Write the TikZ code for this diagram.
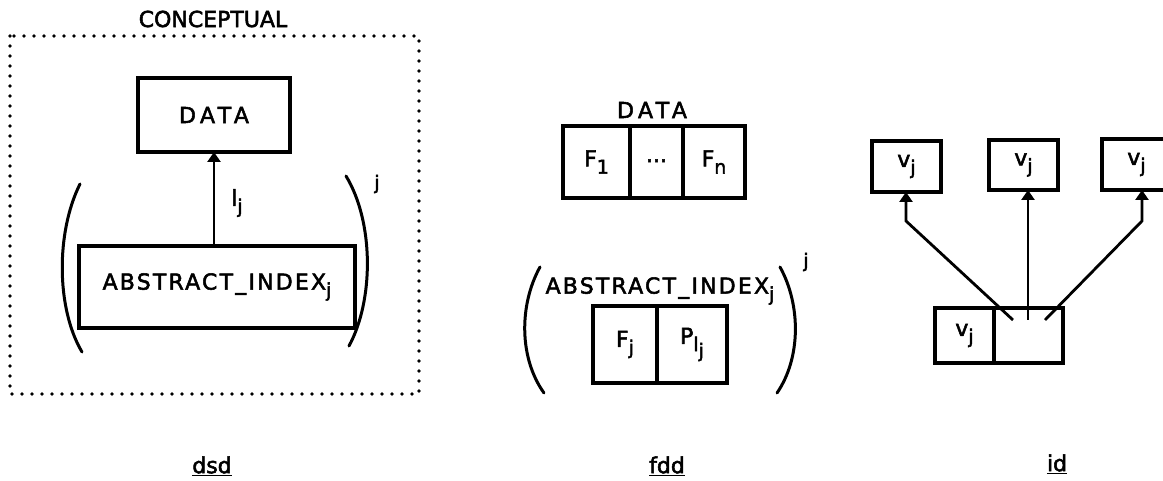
\documentclass[tikz,border=0pt]{standalone}
\usepackage{fontspec}
\setmainfont{DejaVu Sans}[FakeBold=2.4]
\newfontfamily\spaced{DejaVu Sans}[LetterSpace=10,FakeBold=2.4]
\newfontfamily\wide{DejaVu Sans}[LetterSpace=20,FakeBold=2.4]
\usetikzlibrary{arrows.meta}

% lowered index in the plotter style
\newcommand\lowidx[1]{\raisebox{-0.6ex}{\fontsize{19}{19}\selectfont #1}}
% thick underline for the captions
\newcommand\capline[1]{\setlength{\fboxsep}{0pt}\underline{#1}}

\begin{document}
\begin{tikzpicture}[x=1pt,y=-1pt,
  box/.style={draw, line width=3.3pt, inner sep=0pt, outer sep=0pt, font=\fontsize{22}{26}\selectfont},
  lbl/.style={inner sep=0pt, font=\fontsize{22}{26}\selectfont},
  caps/.style={inner sep=0pt, font=\fontsize{22}{26}\selectfont\spaced},
  widecaps/.style={inner sep=0pt, font=\fontsize{22}{26}\selectfont\wide},
  arr/.style={line width=2.8pt, -{Triangle[width=13pt,length=10pt]}},
  paren/.style={line width=3pt, line cap=round},
  dots/.style={line width=3.8pt, line cap=round, dash pattern=on 0pt off 10pt},
  caption/.style={inner sep=0pt, font=\fontsize{22}{26}\selectfont}]
\path[use as bounding box] (0,0) rectangle (1163,481);
\clip (0,0) rectangle (1163,481);

% ---------------- dsd ----------------
\node[lbl] (concept) at (213,19) {CONCEPTUAL};
\draw[dots] (10,36) rectangle (419,394);
\node[box, minimum width=152pt, minimum height=74pt] (data) at (214,115) {};
\node[widecaps] (datatxt) at (data.center) {DATA};
\node[box, minimum width=276pt, minimum height=82pt] (abs) at (217,287) {};
\node[caps] (abstxt) at (abs.center) {ABSTRACT\_INDEX\lowidx{j}};
\draw[arr] (data.south |- abs.north) -- (data.south);
\node[lbl] (lj) at (237,203) {l\lowidx{j}};
\draw[paren] (80,184) .. controls (56,232) and (56,308) .. (82,352);
\draw[paren] (346,176) .. controls (374,222) and (374,300) .. (349,346);
\node[lbl] (dsdexp) at (377,184) {\fontsize{19}{19}\selectfont j};
\node[caption] (dsd) at (212,466) {\underline{dsd}};

% ---------------- fdd ----------------
\node[widecaps] (fdata) at (652,110) {DATA};
\node[box, minimum width=67pt, minimum height=72pt] (f1) at (596.5,162) {F\lowidx{1}};
\node[box, minimum width=53pt, minimum height=72pt] (fdots) at (656.5,162) {\raisebox{0.2ex}{...}};
\node[box, minimum width=62pt, minimum height=72pt] (fn) at (714,162) {F\lowidx{n}};
\node[caps] (fabs) at (660,291) {ABSTRACT\_INDEX\lowidx{j}};
\node[box, minimum width=64pt, minimum height=77pt] (fj) at (625,344.5) {F\lowidx{j}};
\node[box, minimum width=70pt, minimum height=77pt] (plj) at (692,344.5) {P\lowidx{l\lowidx{j}}};
\draw[paren] (540,267) .. controls (519,305) and (519,358) .. (544,393);
\draw[paren] (780,267) .. controls (801,305) and (801,358) .. (777,393);
\node[lbl] (fddexp) at (806,262) {\fontsize{19}{19}\selectfont j};
\node[caption] (fdd) at (667,466) {\underline{fdd}};

% ---------------- id ----------------
\node[box, minimum width=69pt, minimum height=51pt] (v1) at (906.5,166.5) {v\lowidx{j}};
\node[box, minimum width=69pt, minimum height=50pt] (v2) at (1023.5,165) {v\lowidx{j}};
\node[box, minimum width=69pt, minimum height=51pt] (v3) at (1136.5,164.5) {v\lowidx{j}};
\node[box, minimum width=59pt, minimum height=55pt] (vl) at (964.5,335.5) {v\lowidx{j}};
\node[box, minimum width=69pt, minimum height=55pt] (vr) at (1028.5,335.5) {};
\coordinate (s1) at (1013,320);
\coordinate (s2) at (1028,320);
\coordinate (s3) at (1045,320);
\coordinate (b1) at (906,221);
\coordinate (b3) at (1142,221);
\draw[arr] (s1) -- (b1) -- (b1 |- v1.south);
\draw[arr] (s2) -- (s2 |- v2.south);
\draw[arr] (s3) -- (b3) -- (b3 |- v3.south);
\node[caption] (id) at (1057,464) {\underline{id}};
\end{tikzpicture}
\end{document}
